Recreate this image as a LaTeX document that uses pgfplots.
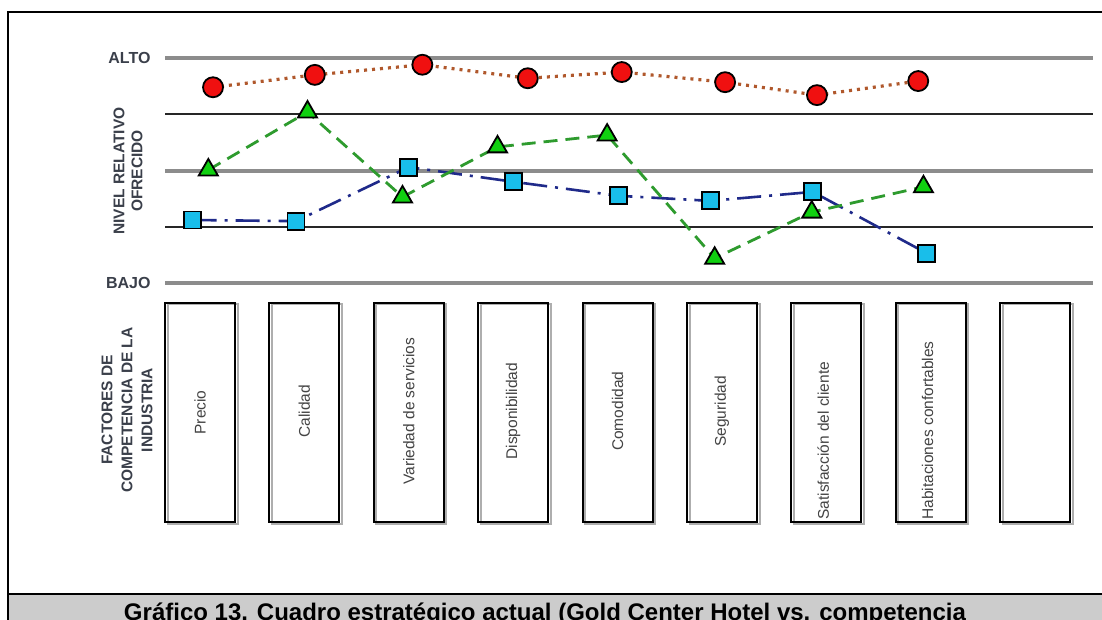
\documentclass[border=0pt]{standalone}
\usepackage{pgfplots}
\pgfplotsset{compat=1.18}
\usepackage{fontspec}
\setmainfont{Liberation Sans}
\definecolor{labelgray}{HTML}{3A3F4A}
\definecolor{boxtext}{HTML}{444444}
\definecolor{gridgray}{HTML}{8C8C8C}
\definecolor{redline}{HTML}{B0582C}
\definecolor{redfill}{HTML}{F01010}
\definecolor{greenline}{HTML}{2E9B2E}
\definecolor{greenfill}{HTML}{10D010}
\definecolor{blueline}{HTML}{1F2A8A}
\definecolor{bluefill}{HTML}{19BEEA}
\definecolor{bandgray}{HTML}{CCCCCC}
\begin{document}
\begin{tikzpicture}[x=1pt,y=1pt]
\useasboundingbox (0,0) rectangle (1102,619);
\clip (0,0) rectangle (1102,619);
\fill[white] (0,0) rectangle (1102,619);
% outer frame and bottom band
\fill[bandgray] (8,-2) rectangle (1104,25);
\draw[black, line width=1.6pt] (8,25) -- (1104,25);
\draw[black, line width=2pt] (8,-2) -- (8,607) -- (1104,607);
\node[anchor=base, font=\fontsize{24}{28}\selectfont\bfseries] at (545,-1) {Gráfico 13. Cuadro estratégico actual (Gold Center Hotel vs. competencia};
% left labels
\node[rotate=90, align=center, font=\fontsize{15.5}{18}\selectfont\bfseries, text=labelgray] at (128,448) {NIVEL RELATIVO\\OFRECIDO};
\node[rotate=90, align=center, font=\fontsize{15.5}{20}\selectfont\bfseries, text=labelgray] at (127,209) {FACTORES DE\\COMPETENCIA DE LA\\INDUSTRIA};
% factor boxes
\foreach \i in {0,...,8} {
  \pgfmathsetmacro\cx{200+104.4*\i}
  \draw[gridgray!70, line width=2pt] (\cx-35+2.5,97-1.5) rectangle (\cx+35+2.5,316-1.5);
  \draw[black, line width=2pt] (\cx-35,97) rectangle (\cx+35,316);
}
\begin{axis}[
  at={(165pt,336pt)}, anchor=south west,
  scale only axis, width=928pt, height=225pt,
  xmin=0.665, xmax=9.554, ymin=0, ymax=4,
  axis line style={draw=none},
  xtick=\empty,
  ytick={0,4}, yticklabels={BAJO,ALTO},
  major tick length=0pt,
  yticklabel style={font=\fontsize{16}{18}\selectfont\bfseries, text=labelgray, xshift=-11pt},
  clip=false,
]
\draw[gridgray, line width=4pt] (axis cs:0.665,0) -- (axis cs:9.554,0);
\draw[gridgray, line width=4pt] (axis cs:0.665,2) -- (axis cs:9.554,2);
\draw[gridgray, line width=4pt] (axis cs:0.665,4) -- (axis cs:9.554,4);
\draw[black!85, line width=2pt] (axis cs:0.665,1) -- (axis cs:9.554,1);
\draw[black!85, line width=2pt] (axis cs:0.665,3) -- (axis cs:9.554,3);
% category labels inside boxes
\node[rotate=90, font=\fontsize{15.5}{18}\selectfont, text=boxtext] at (axis cs:1,-2.30) {Precio};
\node[rotate=90, font=\fontsize{15.5}{18}\selectfont, text=boxtext] at (axis cs:2,-2.28) {Calidad};
\node[rotate=90, font=\fontsize{15.5}{18}\selectfont, text=boxtext] at (axis cs:3,-2.28) {Variedad de servicios};
\node[rotate=90, font=\fontsize{15.5}{18}\selectfont, text=boxtext] at (axis cs:4,-2.28) {Disponibilidad};
\node[rotate=90, font=\fontsize{15.5}{18}\selectfont, text=boxtext] at (axis cs:5,-2.28) {Comodidad};
\node[rotate=90, font=\fontsize{15.5}{18}\selectfont, text=boxtext] at (axis cs:6,-2.28) {Seguridad};
\node[rotate=90, anchor=west, inner sep=0pt, font=\fontsize{15.5}{18}\selectfont, text=boxtext] at (axis cs:6.97,-4.21) {Satisfacción del cliente};
\node[rotate=90, anchor=west, inner sep=0pt, font=\fontsize{15.5}{18}\selectfont, text=boxtext] at (axis cs:7.97,-4.21) {Habitaciones confortables};
% blue series (dash-dot, squares)
\addplot[blueline, line width=2.6pt, dash pattern=on 24pt off 8pt on 3pt off 8pt,
  mark=square*, mark size=8.5pt, mark options={solid, draw=black, line width=1.8pt, fill=bluefill}]
  coordinates {(0.93,1.12) (1.92,1.10) (3.00,2.06) (4.00,1.80) (5.01,1.55) (5.89,1.46) (6.87,1.62) (7.96,0.53)};
% green series (dashed, triangles)
\addplot[greenline, line width=2.8pt, dash pattern=on 14pt off 8pt,
  mark=triangle*, mark size=11pt, mark options={solid, draw=black, line width=1.8pt, fill=greenfill}]
  coordinates {(1.08,2.01) (2.03,3.04) (2.94,1.53) (3.85,2.42) (4.90,2.63) (5.93,0.44) (6.86,1.26) (7.93,1.71)};
% red series (dotted, circles)
\addplot[redline, line width=3.2pt, dash pattern=on 3pt off 5pt,
  mark=*, mark size=10pt, mark options={solid, draw=black, line width=1.8pt, fill=redfill}]
  coordinates {(1.125,3.48) (2.10,3.70) (3.13,3.88) (4.14,3.64) (5.04,3.75) (6.03,3.57) (6.91,3.34) (7.88,3.59)};
\end{axis}
\end{tikzpicture}
\end{document}
